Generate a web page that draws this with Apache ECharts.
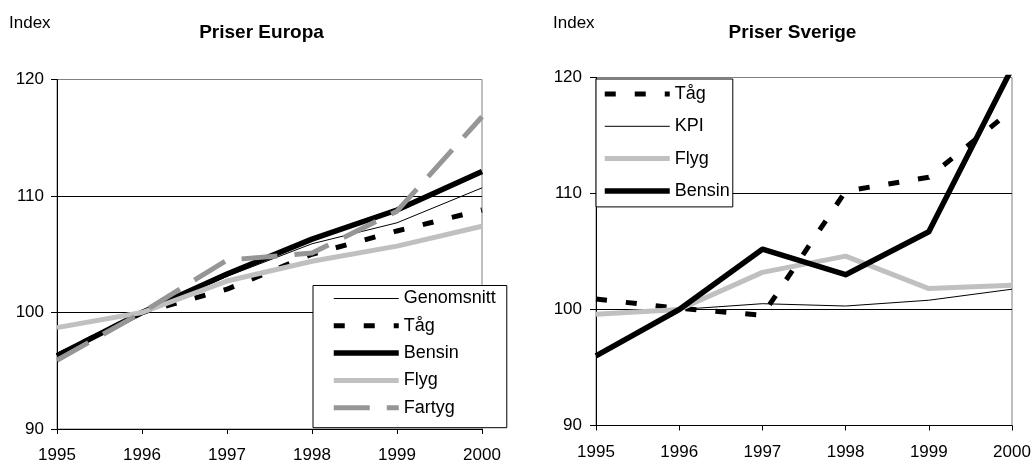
<!DOCTYPE html>
<html>
<head>
<meta charset="utf-8">
<script src="https://cdn.jsdelivr.net/npm/echarts@6/dist/echarts.min.js"></script>
<style>
  html, body { margin: 0; padding: 0; background: #fff; }
  #chart { width: 1034px; height: 464px; }
</style>
</head>
<body>
<div id="chart"></div>
<script>
// Years shared by both panels
const years = ['1995', '1996', '1997', '1998', '1999', '2000'];

// Price index, Europe (1996 = 100)
const euGenomsnitt = [96.5, 100, 103.1, 105.9, 107.7, 110.7];
const euTag        = [96.3, 100, 102.0, 105.0, 107.0, 108.8];
const euBensin     = [96.3, 100, 103.3, 106.3, 108.8, 112.1];
const euFlyg       = [98.7, 100, 102.7, 104.4, 105.7, 107.4];
const euFartyg     = [95.9, 100, 104.5, 105.1, 108.7, 116.8];

// Price index, Sweden (1996 = 100)
const seTag    = [100.9, 100.1, 99.5, 110.2, 111.4, 117.2];
const seKPI    = [99.6, 100, 100.5, 100.3, 100.8, 101.75];
const seFlyg   = [99.6, 100, 103.2, 104.6, 101.8, 102.1];
const seBensin = [96.0, 100, 105.2, 103.0, 106.7, 120.8];

// Axis range
const yMin = 90, yMax = 120, yStep = 10;

const FONT = '"Liberation Sans", Arial, sans-serif';

// Line styles per series
const styles = {
  'Genomsnitt': { color: '#000000', width: 1, type: 'solid' },
  'KPI':        { color: '#000000', width: 1, type: 'solid' },
  'Tåg':        { color: '#000000', width: 5, type: [11, 19] },
  'Bensin':     { color: '#000000', width: 5.5, type: 'solid' },
  'Flyg':       { color: '#c0c0c0', width: 5, type: 'solid' },
  'Fartyg':     { color: '#969696', width: 5, type: [36, 17] }
};

function lineSeries(name, data, idx) {
  const s = styles[name];
  return {
    name: name,
    type: 'line',
    data: data,
    xAxisIndex: idx,
    yAxisIndex: idx,
    symbol: 'none',
    showSymbol: false,
    color: s.color,
    lineStyle: { color: s.color, width: s.width, type: s.type, cap: 'butt', join: 'round' },
    emphasis: { disabled: true },
    animation: false
  };
}

function legendItem(name) {
  const s = styles[name];
  return {
    name: name,
    lineStyle: { color: s.color, width: s.width, type: s.type, cap: 'butt' },
    itemStyle: { color: 'rgba(0,0,0,0)', borderWidth: 0, borderColor: 'rgba(0,0,0,0)' }
  };
}

function xAxis(idx) {
  return {
    type: 'category',
    gridIndex: idx,
    data: years,
    boundaryGap: false,
    axisLine: { show: true, lineStyle: { color: '#000', width: 1 } },
    axisTick: { show: true, length: 5, lineStyle: { color: '#000' } },
    axisLabel: { color: '#000', fontSize: 17, fontFamily: FONT, margin: 18, interval: 0 },
    splitLine: { show: false }
  };
}

function yAxis(idx, margin) {
  return {
    type: 'value',
    gridIndex: idx,
    min: yMin,
    max: yMax,
    interval: yStep,
    axisLine: { show: true, lineStyle: { color: '#000', width: 1 } },
    axisTick: { show: true, length: 6, lineStyle: { color: '#000' } },
    axisLabel: { color: '#000', fontSize: 17, fontFamily: FONT, margin: margin },
    splitLine: { show: true, lineStyle: { color: ['#000', '#000', '#000', '#808080'], width: 1 } }
  };
}

function legend(names, pos) {
  return Object.assign({
    orient: 'vertical',
    itemWidth: 65,
    itemHeight: 14,
    backgroundColor: '#ffffff',
    borderColor: '#000000',
    borderWidth: 1,
    borderRadius: 0,
    selectedMode: false,
    textStyle: { color: '#000', fontSize: 18, fontFamily: FONT },
    data: names.map(legendItem),
    z: 10
  }, pos);
}

const chart = echarts.init(document.getElementById('chart'), null, { renderer: 'canvas' });

chart.setOption({
  backgroundColor: '#ffffff',
  animation: false,
  grid: [
    { left: 57, top: 79.5, width: 425, height: 351, show: true, borderColor: '#808080', borderWidth: 1, backgroundColor: '#fff' },
    { left: 596, top: 77.5, width: 416, height: 348, show: true, borderColor: '#808080', borderWidth: 1, backgroundColor: '#fff' }
  ],
  xAxis: [xAxis(0), xAxis(1)],
  yAxis: [yAxis(0, 13), yAxis(1, 14)],
  legend: [
    legend(['Genomsnitt', 'Tåg', 'Bensin', 'Flyg', 'Fartyg'],
      { left: 313, top: 285.5, padding: [4, 11, 11, 18], itemGap: 9.3 }),
    legend(['Tåg', 'KPI', 'Flyg', 'Bensin'],
      { left: 596, top: 79, padding: [6, 3, 7, 6], itemGap: 14.3 })
  ],
  graphic: [
    { type: 'text', x: 9, y: 23, style: { text: 'Index', font: '17px ' + FONT, fill: '#000', textAlign: 'left', textVerticalAlign: 'middle' } },
    { type: 'text', x: 261.5, y: 33, style: { text: 'Priser Europa', font: 'bold 19px ' + FONT, fill: '#000', textAlign: 'center', textVerticalAlign: 'middle' } },
    { type: 'text', x: 553, y: 23, style: { text: 'Index', font: '17px ' + FONT, fill: '#000', textAlign: 'left', textVerticalAlign: 'middle' } },
    { type: 'text', x: 792.5, y: 33, style: { text: 'Priser Sverige', font: 'bold 19px ' + FONT, fill: '#000', textAlign: 'center', textVerticalAlign: 'middle' } }
  ],
  series: [
    lineSeries('Genomsnitt', euGenomsnitt, 0),
    lineSeries('Tåg', euTag, 0),
    lineSeries('Bensin', euBensin, 0),
    lineSeries('Flyg', euFlyg, 0),
    lineSeries('Fartyg', euFartyg, 0),
    lineSeries('Tåg', seTag, 1),
    lineSeries('KPI', seKPI, 1),
    lineSeries('Flyg', seFlyg, 1),
    lineSeries('Bensin', seBensin, 1)
  ]
});
</script>
</body>
</html>
